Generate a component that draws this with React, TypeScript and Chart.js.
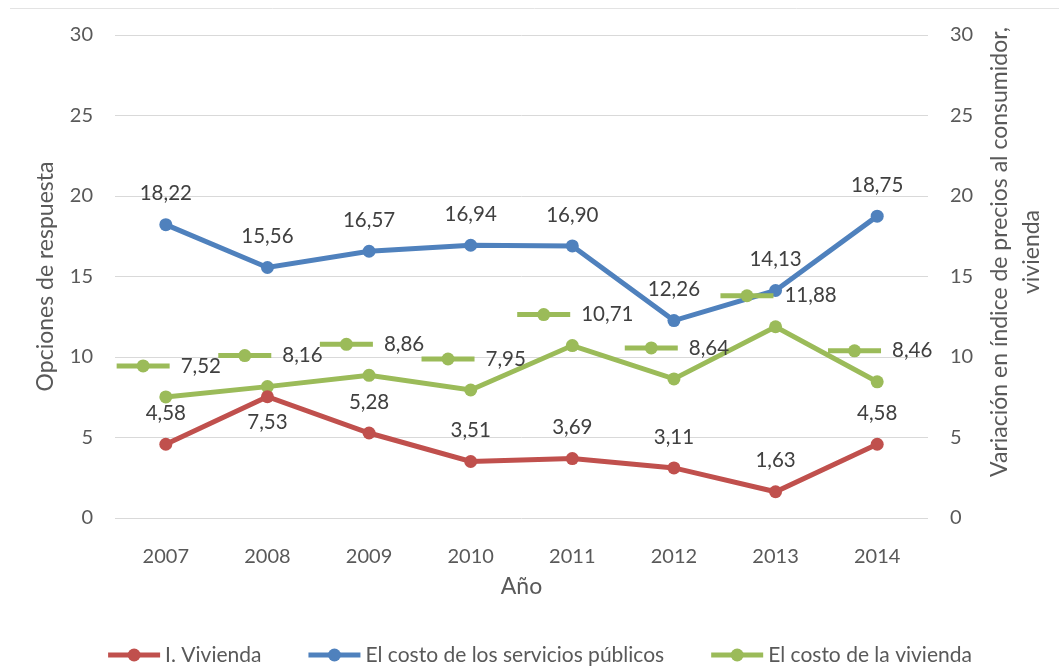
import { useEffect, useRef } from 'react';
import { Chart, registerables } from 'chart.js';

Chart.register(...registerables);

const years = ['2007', '2008', '2009', '2010', '2011', '2012', '2013', '2014'];
const vivienda = [4.58, 7.53, 5.28, 3.51, 3.69, 3.11, 1.63, 4.58];
const serviciosPublicos = [18.22, 15.56, 16.57, 16.94, 16.9, 12.26, 14.13, 18.75];
const costoVivienda = [7.52, 8.16, 8.86, 7.95, 10.71, 8.64, 11.88, 8.46];
const seriesNames = ['I. Vivienda', 'El costo de los servicios públicos', 'El costo de la vivienda'];
const seriesColors = ['#C0504D', '#4F81BD', '#9BBB59'];
const axisMin = 0;
const axisMax = 30;
const axisStep = 5;
const leftTitle = 'Opciones de respuesta';
const rightTitle = ['Variación en índice de precios al consumidor,', 'vivienda'];
const xTitle = 'Año';

const FONT = 'Lato, "Noto Sans", sans-serif';
const TICK_COLOR = '#595959';
const LABEL_COLOR = '#404040';
const GRID_COLOR = '#d9d9d9';

// label placement per point of the red series
const redPlacement = ['above', 'below', 'above', 'above', 'above', 'above', 'above', 'above'];

const fmt = (v: number) => v.toFixed(2).replace('.', ',');

function drawKey(ctx: CanvasRenderingContext2D, cx: number, cy: number, color: string, w: number) {
  ctx.save();
  ctx.strokeStyle = color;
  ctx.lineWidth = 5;
  ctx.lineCap = 'butt';
  ctx.beginPath();
  ctx.moveTo(cx - w / 2, cy);
  ctx.lineTo(cx + w / 2, cy);
  ctx.stroke();
  ctx.fillStyle = color;
  ctx.beginPath();
  ctx.arc(cx, cy, 6.5, 0, Math.PI * 2);
  ctx.fill();
  ctx.restore();
}

const decorPlugin = {
  id: 'excelDecor',
  afterDatasetsDraw(chart: any) {
    const ctx: CanvasRenderingContext2D = chart.ctx;
    ctx.save();
    ctx.font = `20.5px ${FONT}`;
    ctx.fillStyle = LABEL_COLOR;
    ctx.textBaseline = 'middle';
    chart.data.datasets.forEach((ds: any, i: number) => {
      const meta = chart.getDatasetMeta(i);
      meta.data.forEach((pt: any, j: number) => {
        const txt = fmt(ds.data[j]);
        const x = pt.x;
        const y = pt.y;
        if (i === 2) {
          const tw = ctx.measureText(txt).width;
          const keyW = 53;
          const gap = 11;
          const total = keyW + gap + tw;
          const start = x - total / 2 + 3;
          const cy = y - 31;
          drawKey(ctx, start + keyW / 2, cy, seriesColors[2], keyW);
          ctx.fillStyle = LABEL_COLOR;
          ctx.textAlign = 'left';
          ctx.fillText(txt, start + keyW + gap, cy);
        } else {
          ctx.textAlign = 'center';
          const place = i === 0 ? redPlacement[j] : 'above';
          const ly = place === 'below' ? y + 26 : y - 31;
          ctx.fillStyle = LABEL_COLOR;
          ctx.fillText(txt, x, ly);
        }
      });
    });
    ctx.restore();
  },
  afterDraw(chart: any) {
    const ctx: CanvasRenderingContext2D = chart.ctx;
    const area = chart.chartArea;
    ctx.save();
    ctx.strokeStyle = '#e3e3e3';
    ctx.lineWidth = 1;
    ctx.beginPath();
    ctx.moveTo(10, 8.5);
    ctx.lineTo(chart.width, 8.5);
    ctx.stroke();

    ctx.fillStyle = TICK_COLOR;
    ctx.font = `23px ${FONT}`;
    ctx.textAlign = 'center';
    ctx.textBaseline = 'middle';
    ctx.save();
    ctx.translate(46, (area.top + area.bottom) / 2);
    ctx.rotate(-Math.PI / 2);
    ctx.fillText(leftTitle, 0, 0);
    ctx.restore();
    ctx.save();
    ctx.translate(1000, 252);
    ctx.rotate(-Math.PI / 2);
    ctx.fillText(rightTitle[0], 0, 0);
    ctx.fillText(rightTitle[1], 0, 32);
    ctx.restore();
    ctx.fillText(xTitle, (area.left + area.right) / 2, 587);

    ctx.font = `21px ${FONT}`;
    ctx.textAlign = 'left';
    const keyW = 52;
    const keyGap = 5;
    const itemGap = 47;
    const widths = chart.data.datasets.map((ds: any) => keyW + keyGap + ctx.measureText(ds.label).width);
    const total = widths.reduce((a: number, b: number) => a + b, 0) + itemGap * (widths.length - 1);
    let lx = 540 - total / 2;
    const ly = 655;
    chart.data.datasets.forEach((ds: any, i: number) => {
      drawKey(ctx, lx + keyW / 2, ly, ds.borderColor, keyW);
      ctx.fillStyle = TICK_COLOR;
      ctx.fillText(ds.label, lx + keyW + keyGap, ly);
      lx += widths[i] + itemGap;
    });
    ctx.restore();
  },
};

export default function App() {
  const ref = useRef<HTMLCanvasElement | null>(null);
  useEffect(() => {
    document.body.style.margin = '0';
    const canvas = ref.current;
    if (!canvas) return;
    const mk = (label: string, data: number[], color: string, axis: string) => ({
      label,
      data,
      borderColor: color,
      backgroundColor: color,
      pointBackgroundColor: color,
      pointBorderColor: color,
      borderWidth: 5,
      pointRadius: 6.5,
      pointBorderWidth: 0,
      tension: 0,
      yAxisID: axis,
    });
    const chart = new Chart(canvas, {
      type: 'line',
      data: {
        labels: years,
        datasets: [
          mk(seriesNames[0], vivienda, seriesColors[0], 'y'),
          mk(seriesNames[1], serviciosPublicos, seriesColors[1], 'y'),
          mk(seriesNames[2], costoVivienda, seriesColors[2], 'y1'),
        ],
      },
      options: {
        responsive: false,
        animation: false,
        layout: { padding: { top: 35, left: 0, right: 0, bottom: 0 } },
        plugins: {
          legend: { display: false },
          tooltip: { enabled: false },
        },
        scales: {
          x: {
            offset: true,
            grid: { display: false },
            border: { display: false },
            ticks: { color: TICK_COLOR, font: { family: FONT, size: 20 }, padding: 19 },
            afterFit: (s: any) => {
              s.height = 149;
            },
          },
          y: {
            position: 'left',
            min: axisMin,
            max: axisMax,
            grid: { color: GRID_COLOR, lineWidth: 1, drawTicks: false },
            border: { display: false },
            ticks: { stepSize: axisStep, color: TICK_COLOR, font: { family: FONT, size: 20 }, padding: 22 },
            afterFit: (s: any) => {
              s.width = 115;
            },
          },
          y1: {
            position: 'right',
            min: axisMin,
            max: axisMax,
            grid: { display: false, drawTicks: false },
            border: { display: false },
            ticks: { stepSize: axisStep, color: TICK_COLOR, font: { family: FONT, size: 20 }, padding: 22 },
            afterFit: (s: any) => {
              s.width = 131;
            },
          },
        },
      },
      plugins: [decorPlugin],
    } as any);
    return () => chart.destroy();
  }, []);
  return (
    <div style={{ width: 1059, height: 667 }}>
      <canvas ref={ref} width={1059} height={667} />
    </div>
  );
}
